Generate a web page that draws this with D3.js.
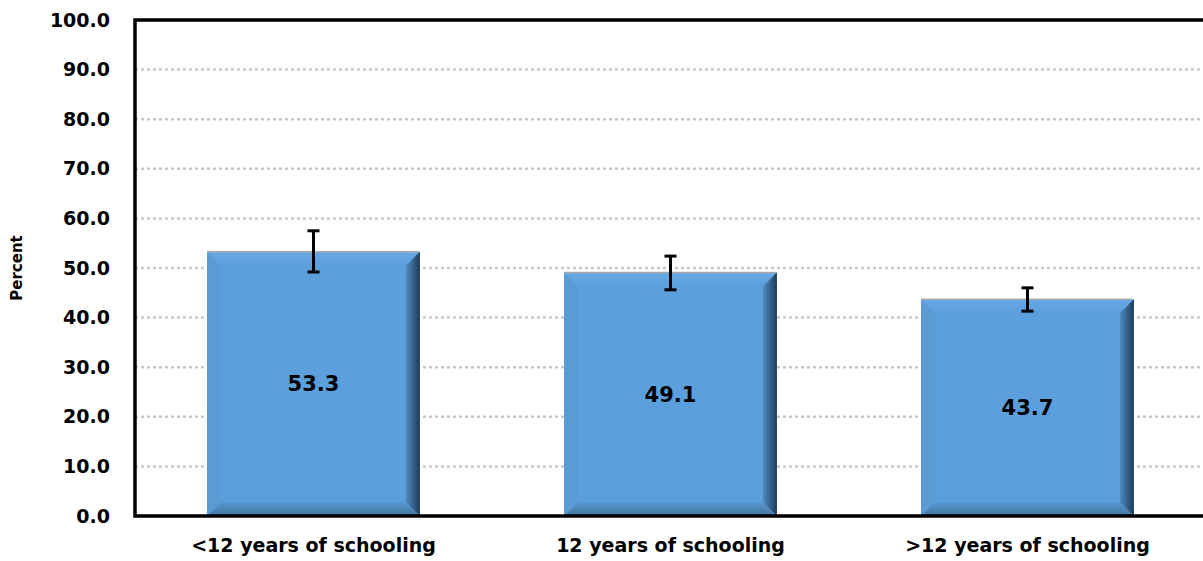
<!DOCTYPE html>
<html><head><meta charset="utf-8">
<script src="https://cdn.jsdelivr.net/npm/d3@7"></script>
<style>body{margin:0;background:#fff;} text{font-family:"DejaVu Sans",sans-serif;font-weight:bold;}</style>
</head><body>
<svg id="c" width="1203" height="561"></svg>
<script>
const categories = ["<12 years of schooling", "12 years of schooling", ">12 years of schooling"];
const values = [53.3, 49.1, 43.7];
const errLow = [49.2, 45.6, 41.3];
const errHigh = [57.5, 52.4, 46.0];
const yTicks = [0,10,20,30,40,50,60,70,80,90,100];

(function(){
const svg = d3.select("#c");
const pL = 135, pR = 1206, pT = 20, pB = 516;
const x = d3.scaleBand().domain(categories).range([pL, pR]).paddingInner(0.404).paddingOuter(0.202);
const y = d3.scaleLinear().domain([0,100]).range([pB, pT]);

const defs = svg.append("defs");
const gR = defs.append("linearGradient").attr("id","gr").attr("x1","0").attr("x2","1").attr("y1","0").attr("y2","0");
gR.append("stop").attr("offset","0").attr("stop-color","#4f8cc4");
gR.append("stop").attr("offset","1").attr("stop-color","#1e3b58");
const gB = defs.append("linearGradient").attr("id","gb").attr("x1","0").attr("x2","0").attr("y1","0").attr("y2","1");
gB.append("stop").attr("offset","0").attr("stop-color","#5898d2");
gB.append("stop").attr("offset","1").attr("stop-color","#44769f");
const gT = defs.append("linearGradient").attr("id","gt").attr("x1","0").attr("x2","0").attr("y1","0").attr("y2","1");
gT.append("stop").attr("offset","0").attr("stop-color","#66a9e6");
gT.append("stop").attr("offset","1").attr("stop-color","#5c9fdc");

// grid
svg.append("g").selectAll("line").data(yTicks.filter(d=>d>0 && d<100)).join("line")
  .attr("x1", pL).attr("x2", 1203).attr("y1", d=>y(d)).attr("y2", d=>y(d))
  .attr("stroke","#c9c9c9").attr("stroke-width",2.5).attr("stroke-dasharray","3,3");

// bars
const bw = x.bandwidth(), bev = 14;
const bars = svg.append("g").selectAll("g").data(categories).join("g");
bars.append("rect").attr("x", d=>x(d)).attr("y", (d,i)=>y(values[i])).attr("width", bw)
  .attr("height", (d,i)=>pB - y(values[i])).attr("fill","#5b9fdc");
bars.append("path").attr("d",(d,i)=>{const x0=x(d),y0=y(values[i]);return `M${x0},${y0}L${x0+bev},${y0+bev}L${x0+bev},${pB-bev}L${x0},${pB}Z`;}).attr("fill","#5a9bd6");
bars.append("path").attr("d",(d,i)=>{const x0=x(d),y0=y(values[i]);return `M${x0},${y0}L${x0+bw},${y0}L${x0+bw-bev},${y0+bev}L${x0+bev},${y0+bev}Z`;}).attr("fill","url(#gt)");
bars.append("path").attr("d",(d,i)=>{const x0=x(d);return `M${x0},${pB}L${x0+bev},${pB-bev}L${x0+bw-bev},${pB-bev}L${x0+bw},${pB}Z`;}).attr("fill","url(#gb)");
bars.append("path").attr("d",(d,i)=>{const x0=x(d),y0=y(values[i]);return `M${x0+bw},${y0}L${x0+bw},${pB}L${x0+bw-bev},${pB-bev}L${x0+bw-bev},${y0+bev}Z`;}).attr("fill","url(#gr)");
bars.append("line").attr("x1",d=>x(d)).attr("x2",d=>x(d)+bw-2).attr("y1",(d,i)=>y(values[i])).attr("y2",(d,i)=>y(values[i]))
  .attr("stroke","#a9a9a9").attr("stroke-width",1.5);

// value labels
bars.append("text").attr("x", d=>x(d)+bw/2).attr("y",(d,i)=>(y(values[i])+pB)/2).attr("dy","0.35em")
  .attr("text-anchor","middle").attr("font-size",21).attr("fill","#000").text((d,i)=>values[i].toFixed(1));

// error bars
const eb = svg.append("g").attr("stroke","#000").attr("stroke-width",3);
categories.forEach((c,i)=>{
  const cx = x(c)+bw/2;
  eb.append("line").attr("x1",cx).attr("x2",cx).attr("y1",y(errLow[i])).attr("y2",y(errHigh[i]));
  eb.append("line").attr("x1",cx-6).attr("x2",cx+6).attr("y1",y(errLow[i])).attr("y2",y(errLow[i]));
  eb.append("line").attr("x1",cx-6).attr("x2",cx+6).attr("y1",y(errHigh[i])).attr("y2",y(errHigh[i]));
});

// frame
svg.append("path").attr("d",`M1210,${pT}L${pL},${pT}L${pL},${pB}L1210,${pB}`)
  .attr("fill","none").attr("stroke","#000").attr("stroke-width",3.5);

// y axis labels
const ya = d3.axisLeft(y).tickValues(yTicks).tickFormat(d=>d.toFixed(1)).tickSize(0).tickPadding(25);
const yg = svg.append("g").attr("transform",`translate(${pL},0)`).call(ya);
yg.select(".domain").remove();
yg.selectAll("text").attr("font-size",19).attr("fill","#000").style("font-family","DejaVu Sans, sans-serif").style("font-weight","bold");

// x axis labels
const xa = d3.axisBottom(x).tickSize(0).tickPadding(23);
const xg = svg.append("g").attr("transform",`translate(0,${pB})`).call(xa);
xg.select(".domain").remove();
xg.selectAll("text").attr("font-size",19).attr("fill","#000").style("font-family","DejaVu Sans, sans-serif").style("font-weight","bold");

// y title
svg.append("text").attr("transform","translate(22,268) rotate(-90)").attr("text-anchor","middle")
  .attr("font-size",15).attr("fill","#000").text("Percent");
})();
</script>
</body></html>
